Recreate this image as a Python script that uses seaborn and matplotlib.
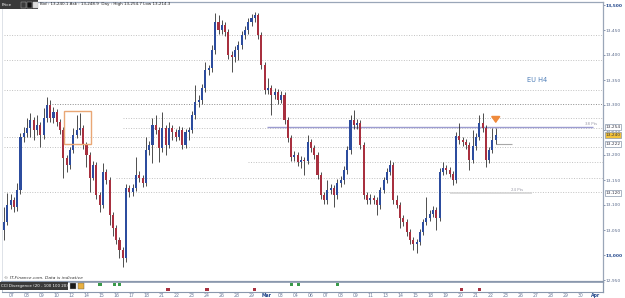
import numpy as np
import pandas as pd
import matplotlib
matplotlib.use("Agg")
import matplotlib.pyplot as plt
from matplotlib.patches import Rectangle
import seaborn as sns

sns.set_theme(style="white")
plt.rcParams['font.family'] = ['DejaVu Sans']

# ---------------- data (EU H4 candles) ----------------
opens = [13050, 13066, 13100, 13110, 13096, 13130, 13236, 13244, 13254, 13270,
         13250, 13260, 13240, 13274, 13300, 13274, 13286, 13266, 13250, 13194,
         13180, 13210, 13240, 13250, 13254, 13220, 13200, 13154, 13180, 13120,
         13100, 13166, 13150, 13080, 13054, 13030, 13010, 12994, 13134, 13126,
         13134, 13160, 13154, 13144, 13210, 13220, 13260, 13250, 13214, 13254,
         13220, 13254, 13246, 13236, 13250, 13220, 13246, 13250, 13280, 13306,
         13310, 13334, 13370, 13374, 13410, 13466, 13450, 13460, 13446, 13400,
         13396, 13410, 13420, 13440, 13450, 13466, 13474, 13480, 13440, 13380,
         13330, 13334, 13320, 13326, 13310, 13320, 13270, 13234, 13196, 13200,
         13186, 13190, 13188, 13226, 13214, 13200, 13160, 13120, 13110, 13130,
         13134, 13120, 13144, 13150, 13170, 13210, 13270, 13260, 13264, 13220,
         13120, 13110, 13114, 13110, 13100, 13130, 13150, 13166, 13180, 13110,
         13100, 13074, 13066, 13046, 13030, 13022, 13026, 13046, 13066, 13074,
         13082, 13090, 13074, 13166, 13174, 13170, 13162, 13150, 13238, 13230,
         13226, 13220, 13190, 13218, 13236, 13264, 13254, 13190, 13210, 13230]
closes = [13066, 13100, 13110, 13096, 13130, 13236, 13244, 13254, 13270, 13250,
          13260, 13240, 13274, 13300, 13274, 13286, 13266, 13250, 13194, 13180,
          13210, 13240, 13250, 13254, 13220, 13200, 13154, 13180, 13120, 13100,
          13166, 13150, 13080, 13054, 13030, 13010, 12994, 13134, 13126, 13134,
          13160, 13154, 13144, 13210, 13220, 13260, 13250, 13214, 13254, 13220,
          13254, 13246, 13236, 13250, 13220, 13246, 13250, 13280, 13306, 13310,
          13334, 13370, 13374, 13410, 13466, 13450, 13460, 13446, 13400, 13396,
          13410, 13420, 13440, 13450, 13466, 13474, 13480, 13440, 13380, 13330,
          13334, 13320, 13326, 13310, 13320, 13270, 13234, 13196, 13200, 13186,
          13190, 13188, 13226, 13214, 13200, 13160, 13120, 13110, 13130, 13134,
          13120, 13144, 13150, 13170, 13210, 13270, 13260, 13264, 13220, 13120,
          13110, 13114, 13110, 13100, 13130, 13150, 13166, 13180, 13110, 13100,
          13074, 13066, 13046, 13030, 13022, 13026, 13046, 13066, 13074, 13082,
          13090, 13074, 13166, 13174, 13170, 13162, 13150, 13238, 13230, 13226,
          13220, 13190, 13218, 13236, 13264, 13254, 13190, 13210, 13230, 13240]
highs = [13096, 13124, 13122, 13116, 13144, 13244, 13256, 13274, 13284, 13276,
         13280, 13266, 13294, 13316, 13310, 13296, 13292, 13272, 13256, 13200,
         13216, 13254, 13280, 13284, 13260, 13226, 13206, 13188, 13186, 13126,
         13184, 13172, 13156, 13086, 13060, 13036, 13016, 13142, 13140, 13142,
         13196, 13168, 13160, 13236, 13228, 13274, 13280, 13256, 13286, 13260,
         13266, 13260, 13252, 13258, 13256, 13252, 13256, 13288, 13340, 13320,
         13342, 13386, 13380, 13420, 13484, 13480, 13470, 13466, 13452, 13408,
         13418, 13428, 13448, 13458, 13474, 13482, 13486, 13484, 13446, 13386,
         13354, 13340, 13334, 13332, 13328, 13326, 13276, 13240, 13208, 13206,
         13198, 13196, 13240, 13232, 13220, 13206, 13166, 13126, 13150, 13142,
         13140, 13152, 13158, 13178, 13218, 13280, 13290, 13272, 13270, 13226,
         13126, 13122, 13120, 13116, 13136, 13156, 13174, 13190, 13186, 13120,
         13106, 13080, 13072, 13052, 13036, 13032, 13052, 13072, 13116, 13090,
         13098, 13096, 13174, 13186, 13180, 13176, 13168, 13246, 13264, 13236,
         13232, 13226, 13250, 13244, 13280, 13284, 13260, 13216, 13254, 13254]
lows = [13030, 13060, 13092, 13086, 13088, 13122, 13226, 13236, 13236, 13230,
        13240, 13216, 13232, 13266, 13266, 13264, 13258, 13242, 13154, 13166,
        13172, 13204, 13234, 13240, 13212, 13176, 13126, 13150, 13112, 13086,
        13094, 13142, 13060, 13038, 13022, 12994, 12976, 12986, 13116, 13118,
        13128, 13146, 13136, 13138, 13200, 13184, 13242, 13186, 13206, 13200,
        13214, 13230, 13228, 13230, 13212, 13214, 13230, 13244, 13272, 13296,
        13302, 13326, 13360, 13366, 13402, 13442, 13442, 13438, 13392, 13366,
        13386, 13390, 13412, 13432, 13442, 13458, 13466, 13432, 13372, 13322,
        13322, 13280, 13312, 13302, 13304, 13262, 13226, 13188, 13188, 13178,
        13174, 13160, 13182, 13206, 13192, 13152, 13112, 13102, 13102, 13122,
        13096, 13112, 13136, 13142, 13162, 13202, 13252, 13252, 13212, 13112,
        13102, 13102, 13102, 13080, 13092, 13124, 13144, 13160, 13102, 13094,
        13054, 13058, 13038, 13022, 13010, 13004, 13020, 13040, 13060, 13068,
        13076, 13050, 13068, 13160, 13162, 13156, 13140, 13144, 13222, 13218,
        13212, 13170, 13184, 13210, 13230, 13246, 13176, 13184, 13204, 13222]

date_labels = ["07", "08", "09", "10", "12", "14", "15", "16", "17", "18",
               "21", "22", "23", "24", "26", "28", "29", "Mar", "03", "04",
               "06", "07", "08", "09", "11", "13", "14", "15", "18", "19",
               "20", "21", "22", "23", "26", "27", "28", "29", "30", "Apr"]
price_ticks = [12950, 13000, 13050, 13100, 13150, 13200, 13250,
               13300, 13350, 13400, 13450, 13500]

# horizontal dotted levels (price, starting bar)
level_prices = [13440, 13390, 13330, 13302, 13274, 13254, 13236, 13216, 13186, 13154, 13126]
level_starts = [0, 0, 0, 14.5, 36, 36, 0, 0, 74, 34, 0]

# CCI divergence signals (bar positions)
bull_signals = [29.1, 33.6, 35.0, 87.0, 89.3, 101.0]
bear_signals = [49.7, 61.5, 76.0, 138.5, 144.2]

df = pd.DataFrame({"open": opens, "high": highs, "low": lows, "close": closes})
df["idx"] = np.arange(len(df))
df["up"] = df["close"] >= df["open"]

# ---------------- figure ----------------
W, H = 625, 298
fig = plt.figure(figsize=(W / 100, H / 100), dpi=100)
fig.patch.set_facecolor("white")

def fx(px):
    return px / W

def fy(py):
    return 1 - py / H

ax = fig.add_axes([fx(2), fy(282), fx(601), 280 / H])
ax2 = fig.add_axes([fx(2), fy(292), fx(601), 10 / H], sharex=ax)

XMIN, XMAX = -0.6, 181.5
YMIN, YMAX = 12946, 13506
ax.set_xlim(XMIN, XMAX)
ax.set_ylim(YMIN, YMAX)

# dotted levels
for lv, st in zip(level_prices, level_starts):
    col = "#8c8c8c" if lv == 13302 else "#c2c2c2"
    ax.hlines(lv, st, XMAX, colors=col, linestyles=(0, (1, 1.6)), lw=0.7, zorder=1)

# purple level line and grey lower line
ax.hlines(13256, 79.7, 178.5, colors="#9c9cd0", lw=1.0, zorder=2)
ax.hlines(13124, 135, 160, colors="#d4d4d4", lw=1.2, zorder=2)
ax.hlines(13222, 149, 154, colors="#a8a8a8", lw=0.8, zorder=2)

# candles
up_col, dn_col = "#2c4c9e", "#a8303f"
ax.vlines(df["idx"], df["low"], df["high"], colors="#1e1e1e", lw=0.55, zorder=3)
body_bottom = np.minimum(df["open"], df["close"])
body_h = np.maximum(np.abs(df["close"] - df["open"]), 3)
ax.bar(df["idx"], body_h, bottom=body_bottom, width=0.62,
       color=[up_col if u else dn_col for u in df["up"]], edgecolor="none", zorder=4)

# orange box
ax.add_patch(Rectangle((18.2, 13222), 8.2, 66, fill=False, edgecolor="#e9a775", lw=1.0, zorder=5))
# orange arrow
ax.annotate("", xy=(149, 13258), xytext=(149, 13276),
            arrowprops=dict(arrowstyle="-|>,head_width=0.22,head_length=0.3",
                            color="#ef8a3c", lw=1.3), zorder=6)

# texts in chart
ax.text(158.5, 13350, "EU H4", color="#4f7fb8", fontsize=4.8, va="center", ha="left")
ax.text(176.0, 13262, "38 Pts", color="#9a9aa8", fontsize=2.8, va="center", ha="left")
ax.text(153.5, 13130, "24 Pts", color="#9a9aa8", fontsize=2.8, va="center", ha="left")
fig.text(fx(4), fy(278), "© IT-Finance.com. Data is indicative", fontsize=3.2,
         style="italic", color="#333333", va="center", ha="left")

# y axis on right
ax.yaxis.tick_right()
ax.set_yticks(price_ticks)
ax.set_yticklabels([f"{t:,}" for t in price_ticks])
ax.tick_params(axis="y", labelsize=3.2, colors="#5b6b8c", length=1.5, width=0.5, pad=0.5)
for lab, t in zip(ax.get_yticklabels(), price_ticks):
    if t in (13000, 13500):
        lab.set_fontweight("bold")
        lab.set_color("#24488c")
ax.tick_params(axis="x", bottom=False, labelbottom=False)
ax.grid(False)
for s in ["top", "right"]:
    ax.spines[s].set_color("#9aa6b8")
    ax.spines[s].set_linewidth(0.9)
ax.spines["left"].set_color("#d8dde4")
ax.spines["left"].set_linewidth(0.6)
ax.spines["bottom"].set_color("#8a98ad")
ax.spines["bottom"].set_linewidth(1.6)

# price boxes on the right axis
tr = ax.get_yaxis_transform()
box_items = [(13256, "13,254", "white"), (13240, "13,240", "#f2c23a"),
             (13222, "13,222", "white"), (13124, "13,120", "white")]
for val, txt, fc in box_items:
    ax.text(1.004, val, txt, transform=tr, fontsize=3.1, color="#333344", va="center", ha="left",
            bbox=dict(boxstyle="square,pad=0.15", fc=fc, ec="#8a98ad", lw=0.5), zorder=10, clip_on=False)

# indicator panel
ax2.set_ylim(0, 1)
sig = pd.DataFrame({"x": bull_signals + bear_signals,
                    "y": [0.72] * len(bull_signals) + [0.28] * len(bear_signals),
                    "kind": ["bull"] * len(bull_signals) + ["bear"] * len(bear_signals)})
sns.scatterplot(data=sig, x="x", y="y", hue="kind", palette={"bull": "#3a9a4a", "bear": "#a8303f"},
                marker="s", s=5, linewidth=0, legend=False, ax=ax2)
ax2.set_xlabel("")
ax2.set_ylabel("")
ax2.set_yticks([])
tick_pos = [2.42 + 4.53 * k for k in range(len(date_labels))]
ax2.set_xticks(tick_pos)
ax2.set_xticklabels(date_labels)
ax2.tick_params(axis="x", labelsize=3.3, colors="#6a7a9a", length=0, pad=0.8)
for lab in ax2.get_xticklabels():
    if lab.get_text() in ("Mar", "Apr"):
        lab.set_fontweight("bold")
        lab.set_color("#24488c")
for s in ["top", "bottom", "left", "right"]:
    ax2.spines[s].set_color("#8a98ad")
ax2.spines["top"].set_linewidth(0.6)
ax2.spines["bottom"].set_linewidth(0.8)
ax2.spines["left"].set_linewidth(0.4)
ax2.spines["right"].set_linewidth(0.9)
ax2.set_xlim(XMIN, XMAX)

# indicator title box
fig.patches.append(Rectangle((0, fy(290)), fx(68), 8 / H, transform=fig.transFigure,
                             facecolor="#3a3a3a", edgecolor="none", zorder=20))
fig.text(fx(1.5), fy(286), "CCI Divergence (20 - 100 100 20)", fontsize=2.9, color="white",
         va="center", ha="left", zorder=21)
fig.patches.append(Rectangle((fx(70), fy(289)), fx(6), 6 / H, transform=fig.transFigure,
                             facecolor="#1a1a1a", edgecolor="#aaaaaa", lw=0.3, zorder=20))
fig.patches.append(Rectangle((fx(78), fy(289)), fx(6), 6 / H, transform=fig.transFigure,
                             facecolor="#e8b040", edgecolor="#555555", lw=0.3, zorder=20))

# price header box
fig.patches.append(Rectangle((0, fy(9)), fx(38), 9 / H, transform=fig.transFigure,
                             facecolor="#3a3a3a", edgecolor="none", zorder=20))
fig.text(fx(2), fy(4.5), "Price", fontsize=3.0, color="white", va="center", ha="left", zorder=21)
for px_, fc in [(21, "#3a3a3a"), (27, "#111111"), (33, "#dddddd")]:
    fig.patches.append(Rectangle((fx(px_), fy(7.5)), fx(4.5), 5.5 / H, transform=fig.transFigure,
                                 facecolor=fc, edgecolor="#bbbbbb", lw=0.3, zorder=21))
fig.text(fx(40), fy(4.5), "Bid : 13,240.1 Ask : 13,248.9  Day : High 13,254.7 Low 13,214.3",
         fontsize=3.0, color="#222222", va="center", ha="left")

fig.savefig("out.png", dpi=100, facecolor="white")
